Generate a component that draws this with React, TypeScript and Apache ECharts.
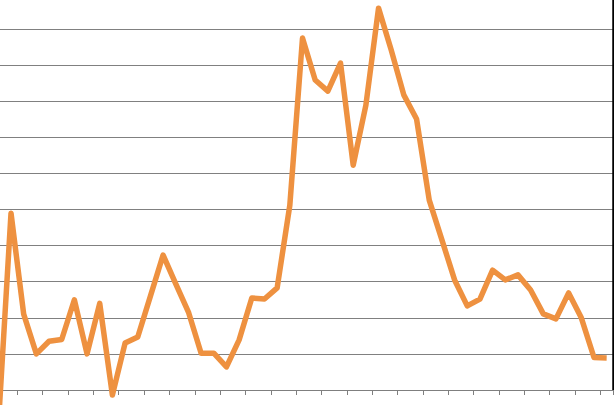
import { useEffect, useRef } from "react";
import * as echarts from "echarts";

// 49 periods, no visible labels in the source chart
const categories: string[] = Array.from({ length: 49 }, (_, i) => String(i + 1));

const values: number[] = [
  -10, 49, 21, 10, 13.5, 14, 25, 10, 24, -1.4,
  13, 14.7, 26, 37.4, 29.4, 21.6, 10.2, 10.2, 6.4, 13.9,
  25.5, 25.2, 28.3, 51.2, 97.5, 85.9, 82.8, 90.6, 62.3, 78.9,
  105.8, 94.2, 81.7, 75.1, 52.6, 41.6, 30.5, 23.3, 25.2, 33.2,
  30.5, 31.9, 27.7, 21.1, 19.7, 26.9, 20, 9, 8.9,
];

const yMin = 0;
const yMax = 110;
const yStep = 10;

export default function App() {
  const chartRef = useRef<HTMLDivElement>(null);

  useEffect(() => {
    if (!chartRef.current) return;
    const chart = echarts.init(chartRef.current, undefined, { renderer: "svg" });

    chart.setOption({
      animation: false,
      // the source is cropped: the plot runs past the left and top edges
      grid: { left: 0, right: 1, top: 0, bottom: 15, containLabel: false },
      xAxis: {
        type: "category",
        data: categories,
        boundaryGap: true,
        axisLine: { show: true, lineStyle: { color: "#7f7f7f", width: 1 } },
        axisTick: { show: true, length: 5, lineStyle: { color: "#7f7f7f" } },
        axisLabel: { show: false },
        splitLine: { show: false },
      },
      yAxis: {
        type: "value",
        position: "right",
        min: yMin,
        max: yMax,
        interval: yStep,
        axisLine: { show: true, lineStyle: { color: "#000000", width: 2.5 } },
        axisTick: { show: false },
        axisLabel: { show: false },
        splitLine: { show: true, lineStyle: { color: "#808080", width: 1 } },
      },
      series: [
        {
          type: "line",
          data: values,
          symbol: "none",
          clip: false,
          lineStyle: { color: "#EE9140", width: 5.5, join: "round" },
          itemStyle: { color: "#EE9140" },
        },
      ],
    });

    return () => {
      chart.dispose();
    };
  }, []);

  return (
    <div style={{ position: "absolute", left: 0, top: 0, width: "614px", height: "405px", overflow: "hidden", background: "#fff" }}>
      <div
        ref={chartRef}
        style={{ position: "absolute", left: "-8px", top: "-7px", width: "622px", height: "412px" }}
      />
    </div>
  );
}
